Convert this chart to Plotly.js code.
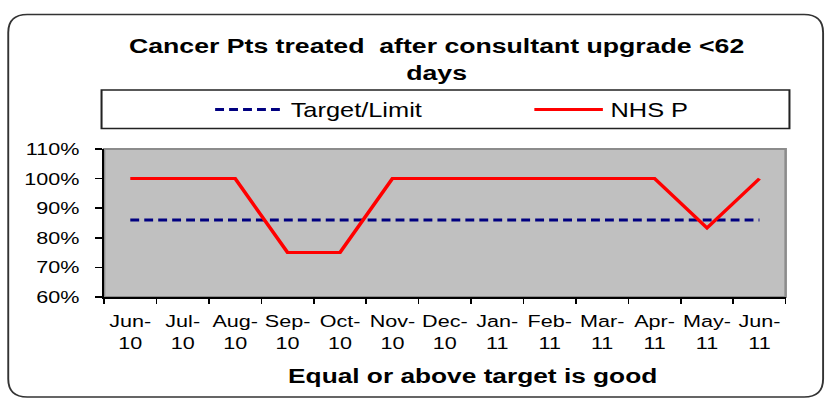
<!DOCTYPE html>
<html><head><meta charset="utf-8">
<script src="https://cdn.plot.ly/plotly-3.0.1.min.js"></script>
<style>
html,body{margin:0;padding:0;background:#fff;overflow:hidden}
#chart{width:650px;height:400px;transform:scaleX(1.26923);transform-origin:0 0}
</style></head><body><div id="chart"></div>
<script>
// ---- data ----
const months = ['Jun-10','Jul-10','Aug-10','Sep-10','Oct-10','Nov-10','Dec-10','Jan-11','Feb-11','Mar-11','Apr-11','May-11','Jun-11'];
const tickLabels = ['Jun-<br>10','Jul-<br>10','Aug-<br>10','Sep-<br>10','Oct-<br>10','Nov-<br>10','Dec-<br>10','Jan-<br>11','Feb-<br>11','Mar-<br>11','Apr-<br>11','May-<br>11','Jun-<br>11'];
const targetLimit = [86,86,86,86,86,86,86,86,86,86,86,86,86];
const nhsP = [100,100,100,75,75,100,100,100,100,100,100,83.3,100];
const seriesNames = ['Target/Limit','NHS P'];
const yTickVals = [60,70,80,90,100,110];
const yTickLabels = ['60%','70%','80%','90%','100%','110%'];
const chartTitle = 'Cancer Pts treated  after consultant upgrade &lt;62<br>days';
const xTitle = 'Equal or above target is good';

// ---- layout helpers (unscaled pixel -> paper) ----
const W = 650, H = 400, L = 82, R = 31, T = 149, B = 103;
const PW = W - L - R, PH = H - T - B;
const px = v => (v - L) / PW;
const py = v => (H - B - v) / PH;
function roundRect(x0, y0, x1, y1, rx, ry) {
  const P = (x, y) => px(x).toFixed(5) + ',' + py(y).toFixed(5);
  return 'M' + P(x0 + rx, y0) + ' L' + P(x1 - rx, y0) + ' Q' + P(x1, y0) + ' ' + P(x1, y0 + ry) +
    ' L' + P(x1, y1 - ry) + ' Q' + P(x1, y1) + ' ' + P(x1 - rx, y1) +
    ' L' + P(x0 + rx, y1) + ' Q' + P(x0, y1) + ' ' + P(x0, y1 - ry) +
    ' L' + P(x0, y0 + ry) + ' Q' + P(x0, y0) + ' ' + P(x0 + rx, y0) + ' Z';
}
const FONT = 'Liberation Sans, Arial, Helvetica, sans-serif';
const navy = '#000080', red = '#FF0000';
const dashStyle = '7px,4px';

const traces = [
  {x: months, y: targetLimit, name: seriesNames[0], type: 'scatter', mode: 'lines',
   line: {color: navy, width: 3, dash: dashStyle}, showlegend: false, hoverinfo: 'x+y+name'},
  {x: months, y: nhsP, name: seriesNames[1], type: 'scatter', mode: 'lines',
   line: {color: red, width: 3}, showlegend: false, hoverinfo: 'x+y+name'}
];

const layout = {
  width: W, height: H,
  margin: {l: L, r: R, t: T, b: B},
  paper_bgcolor: '#ffffff',
  plot_bgcolor: '#C0C0C0',
  font: {family: FONT, color: '#000'},
  showlegend: false,
  title: {text: chartTitle, font: {family: FONT, size: 21, color: '#000', weight: 'bold'},
          xref: 'container', x: 344 / W, xanchor: 'center',
          yref: 'container', y: 1 - 53 / H, yanchor: 'top'},
  xaxis: {type: 'category', range: [-0.5, 12.5], tickmode: 'array', tickvals: months, ticktext: tickLabels,
          tickangle: 0, tickson: 'boundaries', ticks: 'outside', ticklen: 5, tickwidth: 1.2, tickcolor: '#000',
          showline: true, linecolor: '#000', linewidth: 1.5, showgrid: false, zeroline: false,
          tickfont: {family: FONT, size: 17, color: '#000'}, ticklabelstandoff: 8, fixedrange: true},
  yaxis: {range: [60, 110], tickmode: 'array', tickvals: yTickVals, ticktext: yTickLabels,
          ticks: 'outside', ticklen: 5.5, tickwidth: 1.5, tickcolor: '#000',
          showline: true, linecolor: '#000', linewidth: 1.6, showgrid: false, zeroline: false,
          tickfont: {family: FONT, size: 17, color: '#000'}, ticklabelstandoff: 9, fixedrange: true},
  shapes: [
    {type: 'rect', xref: 'paper', yref: 'paper', x0: 0, x1: 1, y0: 0, y1: 1,
     line: {color: '#8c8c8c', width: 2}, layer: 'below'},
    {type: 'path', xref: 'paper', yref: 'paper', path: roundRect(6.5, 14.5, 648.5, 397, 15, 18),
     line: {color: '#333333', width: 1.5}},
    {type: 'rect', xref: 'paper', yref: 'paper', x0: px(80), x1: px(622), y0: py(90), y1: py(128.5),
     line: {color: '#222222', width: 1.6}},
    {type: 'line', xref: 'paper', yref: 'paper', x0: px(169.5), x1: px(223), y0: py(109.5), y1: py(109.5),
     line: {color: navy, width: 3, dash: dashStyle}},
    {type: 'line', xref: 'paper', yref: 'paper', x0: px(421), x1: px(475), y0: py(109.5), y1: py(109.5),
     line: {color: red, width: 3}}
  ],
  annotations: [
    {xref: 'paper', yref: 'paper', x: px(227), y: py(110), xanchor: 'left', yanchor: 'middle',
     text: seriesNames[0], showarrow: false, font: {family: FONT, size: 20, color: '#000'}},
    {xref: 'paper', yref: 'paper', x: px(478.5), y: py(110), xanchor: 'left', yanchor: 'middle',
     text: seriesNames[1], showarrow: false, font: {family: FONT, size: 20, color: '#000'}},
    {xref: 'paper', yref: 'paper', x: px(372), y: py(375.5), xanchor: 'center', yanchor: 'middle',
     text: xTitle, showarrow: false, font: {family: FONT, size: 20.7, color: '#000', weight: 'bold'}}
  ]
};

Plotly.newPlot('chart', traces, layout, {displayModeBar: false, staticPlot: true});
</script></body></html>
